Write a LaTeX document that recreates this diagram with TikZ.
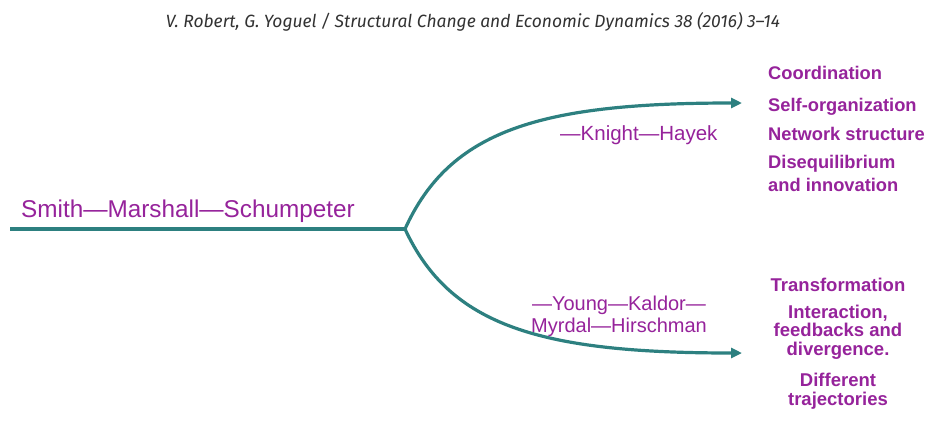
\documentclass[tikz,border=0pt]{standalone}
\usepackage{fontspec}
\usepackage{graphicx}
\setmainfont{Liberation Sans}
\newfontfamily\headfont{Fira Sans}
\usetikzlibrary{arrows.meta}
\definecolor{teal1}{RGB}{45,128,128}
\definecolor{purp}{RGB}{150,35,155}
\definecolor{headgray}{RGB}{50,50,50}
\begin{document}
\begin{tikzpicture}[x=1pt,y=-1pt,
  conn/.style={draw=teal1,line width=3.2pt},
  arr/.style={conn,-{Triangle[length=11pt,width=10pt]}},
  pname/.style={text=purp,inner sep=0pt,font=\fontsize{20}{22}\selectfont},
  itemL/.style={text=purp,inner sep=0pt,anchor=west,align=left,font=\bfseries\fontsize{18.3}{23}\selectfont},
  itemC/.style={text=purp,inner sep=0pt,align=center,font=\bfseries\fontsize{18.5}{18.7}\selectfont}]
\useasboundingbox (0,0) rectangle (929,429);
\fill[white] (0,0) rectangle (929,429);
% header
\node[text=headgray,inner sep=0pt,anchor=base] (head) at (473,27) {\resizebox{614pt}{15pt}{\headfont\itshape V. Robert, G. Yoguel / Structural Change and Economic Dynamics 38 (2016) 3–14}};
% connectors
\coordinate (s) at (10,229);
\coordinate (b) at (405,229);
\coordinate (u) at (742,103);
\coordinate (d) at (742,353);
\draw[conn] (s) -- (b);
\draw[arr] (b) .. controls (450,130) and (540,103) .. (u);
\draw[arr] (b) .. controls (450,326) and (540,353) .. (d);
% names
\node[pname,anchor=west,font=\fontsize{24.3}{26}\selectfont] (sms) at (21,211) {Smith---Marshall---Schumpeter};
\node[pname,anchor=west,font=\fontsize{20.5}{22}\selectfont] (kh) at (560,135) {---Knight---Hayek};
\node[pname,align=center] (ykmh) at (619,316) {---Young---Kaldor---\\Myrdal---Hirschman};
% right top list
\node[itemL] (c1) at (768,73) {Coordination};
\node[itemL] (c2) at (768,106.5) {Self-organization};
\node[itemL] (c3) at (768,134) {Network structure};
\node[itemL] (c4) at (768,173) {Disequilibrium\\and innovation};
% right bottom list
\node[itemC] (t1) at (838,285) {Transformation};
\node[itemC] (t2) at (838,332) {Interaction,\\feedbacks and\\divergence.};
\node[itemC] (t3) at (838,391) {Different\\trajectories};
\end{tikzpicture}
\end{document}
